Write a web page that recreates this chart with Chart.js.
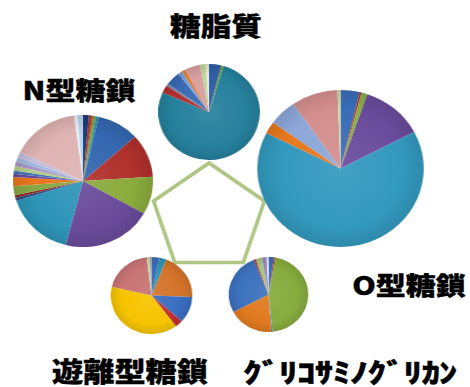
<!DOCTYPE html>
<html><head><meta charset="utf-8">
<script src="https://cdn.jsdelivr.net/npm/chart.js@4.4.1/dist/chart.umd.min.js"></script>
<style>
html,body{margin:0;padding:0;background:#fff;}
#stage{position:relative;width:470px;height:387px;overflow:hidden;background:#fff;}
.box{position:absolute;transform-origin:50% 50%;}
.lbl{position:absolute;white-space:nowrap;font-family:"Noto Sans CJK JP","Noto Sans CJK SC",sans-serif;font-weight:900;color:#000;line-height:1;-webkit-text-stroke:0.35px #000;}
</style></head><body><div id="stage"></div>
<script>
// ---- data ----
const groups = ["糖脂質", "N型糖鎖", "O型糖鎖", "遊離型糖鎖", "ｸﾞﾘｺｻﾐﾉｸﾞﾘｶﾝ"];

const glycolipidValues = [3.9, 0.8, 77.0, 2.5, 0.8, 4.7, 1.4, 1.1, 5.0, 1.7, 0.8, 0.3];
const nGlycanValues    = [1.4, 0.8, 0.8, 0.6, 9.7, 10.6, 9.2, 20.8, 16.1, 0.7, 0.7, 2.2, 2.2, 0.8, 0.8, 1.1, 1.1, 1.1, 1.4, 15.7, 0.7, 1.3];
const oGlycanValues    = [3.7, 0.4, 1.1, 12.1, 65.1, 2.5, 5.4, 9.0, 0.6];
const freeGlycanValues = [3.1, 2.8, 19.7, 11.1, 3.1, 38.9, 19.4, 1.1, 0.8];
const gagValues        = [2.2, 0.6, 45.4, 0.7, 18.3, 26.7, 0.8, 2.5, 1.9, 0.8];

const pentagonValues = [1, 1, 1, 1, 1];
const pentagonAxes = ["糖脂質", "O型糖鎖", "ｸﾞﾘｺｻﾐﾉｸﾞﾘｶﾝ", "遊離型糖鎖", "N型糖鎖"];

// ---- styles ----
const glycolipidColors = ["#2f5fa8","#6e9a3a","#26809c","#b03030","#7a8494","#3a6bb5","#7d9fd6","#e8781e","#d9a0a0","#bcd69a","#efe7c4","#d8dde6"];
const nGlycanColors    = ["#1e3c78","#b8312f","#7ca33a","#2c8fa8","#3467b0","#b0302c","#8aab3c","#6a4b9a","#2e95b8","#2b4c7e","#8b2b2b","#86a844","#e8771c","#6a4b9a","#4573b9","#b5cc87","#a996c7","#9db8dd","#c7bdda","#dfb3b3","#eef2f7","#b9d3ea"];
const oGlycanColors    = ["#3a6db8","#b03030","#8ab040","#6a4c9c","#3399be","#e8781e","#8ca7d8","#d48f8e","#c5d9a0"];
const freeGlycanColors = ["#3a6bb5","#2d93b5","#d4742a","#3a6ec0","#c03030","#f6c400","#c87474","#c8d8a8","#a0a0a0"];
const gagColors        = ["#3a6bb5","#b03030","#86ab3e","#6a8aaa","#e07a20","#3d72be","#b83030","#a8c880","#9888c0","#e8e8f0"];

// ---- layout ----
const stretchX = 1.06;
const pieLayout = [
  {values: glycolipidValues, colors: glycolipidColors, cx: 208.5, cy: 112,   r: 48},
  {values: nGlycanValues,    colors: nGlycanColors,    cx: 83,    cy: 181,   r: 66},
  {values: oGlycanValues,    colors: oGlycanColors,    cx: 340,   cy: 168.5, r: 78.5},
  {values: freeGlycanValues, colors: freeGlycanColors, cx: 151.5, cy: 295,   r: 38.5},
  {values: gagValues,        colors: gagColors,        cx: 268.5, cy: 294.5, r: 37.5}
];
const pentagonLayout = {cx: 209, cy: 218.5, r: 55.5, pad: 4};
const labelLayout = [
  {text: groups[0], cx: 216, cy: 24.5, size: 26, sx: 1.18, ls: 0},
  {text: groups[1], cx: 79,  cy: 89,   size: 25, sx: 1.2, ls: 0},
  {text: groups[2], cx: 409, cy: 284,  size: 25, sx: 1.2, ls: 0},
  {text: groups[3], cx: 130, cy: 370,  size: 27, sx: 1.155, ls: 0},
  {text: groups[4], cx: 350, cy: 370.5, size: 27, sx: 1.36, ls: -0.5}
];

const stage = document.getElementById('stage');

function shade(hex, amt) {
  const n = parseInt(hex.slice(1), 16);
  let r = (n >> 16) & 255, g = (n >> 8) & 255, b = n & 255;
  const f = c => amt >= 0 ? Math.round(c + (255 - c) * amt) : Math.round(c * (1 + amt));
  return `rgb(${f(r)},${f(g)},${f(b)})`;
}

function makeBox(cx, cy, w, h) {
  const d = document.createElement('div');
  d.className = 'box';
  d.style.left = (cx - w / 2) + 'px';
  d.style.top = (cy - h / 2) + 'px';
  d.style.width = w + 'px';
  d.style.height = h + 'px';
  d.style.transform = `scaleX(${stretchX})`;
  const c = document.createElement('canvas');
  c.width = w; c.height = h;
  c.style.width = w + 'px'; c.style.height = h + 'px';
  d.appendChild(c);
  stage.appendChild(d);
  return c;
}

// pentagon (radar chart with equal values)
{
  const L = pentagonLayout;
  const size = 2 * L.r + 2 * L.pad;
  const c = makeBox(L.cx, L.cy, size, size);
  new Chart(c, {
    type: 'radar',
    data: {labels: pentagonAxes, datasets: [{data: pentagonValues, borderColor: '#aec583', borderWidth: 3.5, pointRadius: 0, fill: false, backgroundColor: 'transparent', borderJoinStyle: 'miter'}]},
    options: {
      responsive: false, animation: false, devicePixelRatio: 1,
      layout: {padding: L.pad},
      plugins: {legend: {display: false}, tooltip: {enabled: false}},
      scales: {r: {min: 0, max: 1, ticks: {display: false}, grid: {display: false}, angleLines: {display: false}, pointLabels: {display: false}}}
    }
  });
}

// pies
pieLayout.forEach(p => {
  const size = 2 * p.r;
  const c = makeBox(p.cx, p.cy, size, size);
  new Chart(c, {
    type: 'pie',
    data: {
      labels: p.values.map((_, i) => String(i + 1)),
      datasets: [{
        data: p.values,
        borderWidth: 0,
        backgroundColor: ctx => {
          const base = p.colors[ctx.dataIndex];
          const a = ctx.chart.chartArea;
          if (!a) return base;
          const x = (a.left + a.right) / 2, y = (a.top + a.bottom) / 2, rr = Math.min(a.width, a.height) / 2;
          const g = ctx.chart.ctx.createRadialGradient(x, y, 0, x, y, rr);
          g.addColorStop(0, shade(base, 0.08));
          g.addColorStop(0.75, base);
          g.addColorStop(1, shade(base, -0.10));
          return g;
        }
      }]
    },
    options: {
      responsive: false, animation: false, devicePixelRatio: 1,
      layout: {padding: 0},
      plugins: {legend: {display: false}, tooltip: {enabled: false}}
    }
  });
});

// labels
labelLayout.forEach(l => {
  const d = document.createElement('div');
  d.className = 'lbl';
  d.textContent = l.text;
  d.style.fontSize = l.size + 'px';
  d.style.letterSpacing = l.ls + 'px';
  d.style.left = l.cx + 'px';
  d.style.top = l.cy + 'px';
  d.style.transform = `translate(-50%,-50%) scaleX(${l.sx})`;
  stage.appendChild(d);
});
</script>
</body></html>
